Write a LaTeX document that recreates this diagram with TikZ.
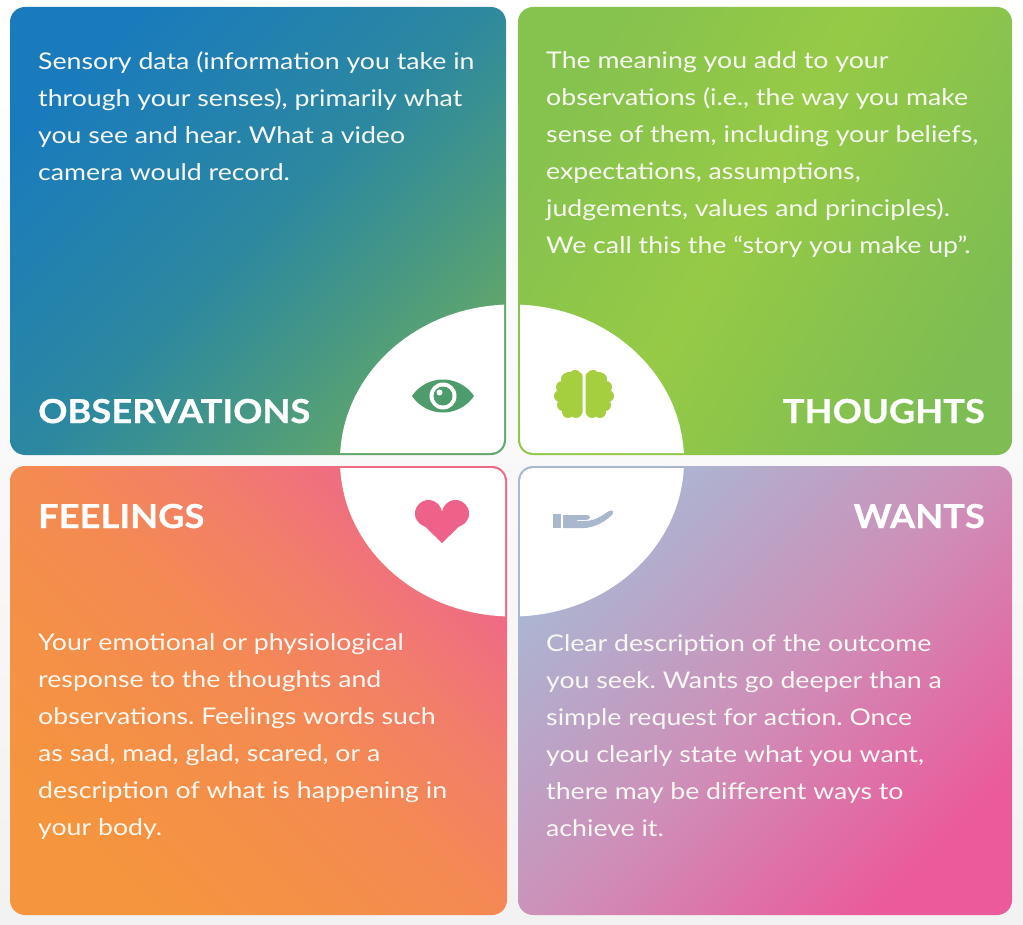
\documentclass[tikz,border=0pt]{standalone}
\usepackage{fontspec}
\setmainfont{Lato}[FakeStretch = 1.16]
\newfontfamily\titleFont{Lato}[FakeStretch = 1.1, BoldFeatures = {FakeBold = 0.8}]
\usepackage{tikz}
\usetikzlibrary{positioning}
\frenchspacing
\tikzstyle{canvas} = [x = 1pt, y = -1pt]
\definecolor{pageEnd}{HTML}{F2F2F2}
\definecolor{obsStart}{HTML}{1A7BBC}
\definecolor{obsMid}{HTML}{2C88A0}
\definecolor{obsLate}{HTML}{4A9A80}
\definecolor{obsEnd}{HTML}{62A66A}
\definecolor{thoStart}{HTML}{86C24E}
\definecolor{thoMid}{HTML}{96CA46}
\definecolor{thoEnd}{HTML}{7EBD53}
\definecolor{feeStart}{HTML}{F5953D}
\definecolor{feeMid}{HTML}{F48A52}
\definecolor{feeLate}{HTML}{F27E6A}
\definecolor{feeEnd}{HTML}{EE6888}
\definecolor{wanStart}{HTML}{A9B7D3}
\definecolor{wanMid}{HTML}{CD90B9}
\definecolor{wanEnd}{HTML}{EB5A9B}
\definecolor{eyeColor}{HTML}{4E9B6C}
\definecolor{brainColor}{HTML}{A5CF3E}
\definecolor{heartColor}{HTML}{EE6289}
\definecolor{handColor}{HTML}{AAB8CE}
\definecolor{textColor}{HTML}{F8F8F2}
\pgfdeclarehorizontalshading{obsGrad}{100bp}{color(0bp)=(obsStart); color(25bp)=(obsStart); color(50bp)=(obsMid); color(65bp)=(obsLate); color(75bp)=(obsEnd); color(100bp)=(obsEnd)}
\pgfdeclarehorizontalshading{thoGrad}{100bp}{color(0bp)=(thoStart); color(25bp)=(thoStart); color(47bp)=(thoMid); color(75bp)=(thoEnd); color(100bp)=(thoEnd)}
\pgfdeclarehorizontalshading{feeGrad}{100bp}{color(0bp)=(feeStart); color(25bp)=(feeStart); color(50bp)=(feeMid); color(62bp)=(feeLate); color(75bp)=(feeEnd); color(100bp)=(feeEnd)}
\pgfdeclarehorizontalshading{wanGrad}{100bp}{color(0bp)=(wanStart); color(25bp)=(wanStart); color(50bp)=(wanMid); color(75bp)=(wanEnd); color(100bp)=(wanEnd)}
\tikzstyle{boxStyle} = [rounded corners = 15pt]
\tikzstyle{obsShade} = [shading = obsGrad, shading angle = -45]
\tikzstyle{thoShade} = [shading = thoGrad, shading angle = -30]
\tikzstyle{feeShade} = [shading = feeGrad, shading angle = 45]
\tikzstyle{wanShade} = [shading = wanGrad, shading angle = -45]
\tikzstyle{bodyText} = [anchor = north west, inner sep = 0, align = left, text = textColor, font = \fontsize{23}{37}\selectfont]
\tikzstyle{titleText} = [inner sep = 0, text = white, font = \titleFont\fontsize{33}{33}\selectfont\bfseries]
\newcommand{\quadBox}[5]{
  \shade [boxStyle, #5] (#1, #2) rectangle (#3, #4);
  \begin{scope}
    \clip [rounded corners = 13pt] (#1 + 2, #2 + 2) rectangle (#3 - 2, #4 - 2);
    \fill [white] (512, 460.5) ellipse [x radius = 172, y radius = 156];
  \end{scope}
}

\begin{document}
\begin{tikzpicture}[canvas]
      \useasboundingbox (0, 0) rectangle (1023, 925);
      \shade [top color = white, bottom color = pageEnd] (0, 0) rectangle (1023, 925);

      \quadBox{10}{7}{506}{455}{obsShade}
      \quadBox{518}{7}{1012}{455}{thoShade}
      \quadBox{10}{466}{507}{915}{feeShade}
      \quadBox{518}{466}{1012}{915}{wanShade}

      \begin{scope}[shift = {(443, 396)}]
        \fill [eyeColor] (-31, 0) .. controls (-16, -22) and (16, -22) .. (31, 0) .. controls (16, 22) and (-16, 22) .. (-31, 0) -- cycle;
        \fill [white] (0, 0) circle (13.5);
        \fill [eyeColor] (0, 0) circle (9.5);
        \fill [white] (-3.5, -3.5) circle (3);
      \end{scope}

      \foreach \side in {-1, 1} {
        \begin{scope}[shift = {(584, 394)}, xscale = \side, brainColor]
          \fill [rounded corners = 4pt] (-20, -22) rectangle (-1.5, 22);
          \fill (-9, -18) circle (6);
          \fill (-17, -15) circle (6);
          \fill (-22, -7) circle (6);
          \fill (-24, 2) circle (6);
          \fill (-21, 11) circle (6);
          \fill (-16, 18) circle (6);
          \fill (-8, 18) circle (6);
        \end{scope}
      }

      \begin{scope}[shift = {(442, 521)}, heartColor]
        \fill (-13.5, -7.5) circle (13.5);
        \fill (13.5, -7.5) circle (13.5);
        \fill (-26.8, -4) -- (0, 22) -- (26.8, -4) -- (0, -8) -- cycle;
      \end{scope}

      \begin{scope}[shift = {(583, 521)}, handColor]
        \fill (-30, -7) rectangle (-22, 7);
        \fill (-20, -6) -- (4, -6) .. controls (8, -6) and (8, -1) .. (3, -1) -- (-6, -1) -- (-6, 0) -- (2, 0) .. controls (12, 0) and (20, -6) .. (26, -10) .. controls (30, -12) and (32, -8) .. (28, -5) .. controls (20, 2) and (10, 7) .. (0, 7) -- (-20, 7) -- cycle;
      \end{scope}

      \node [titleText, anchor = base west] (obsTitle) at (38, 423) {OBSERVATIONS};
      \node [titleText, anchor = base east] (thoTitle) at (985, 423) {THOUGHTS};
      \node [titleText, anchor = base west] (feeTitle) at (38, 528) {FEELINGS};
      \node [titleText, anchor = base east] (wanTitle) at (985, 528) {WANTS};

      \node [bodyText] (obsText) at (38, 51) {Sensory data (information you take in\\through your senses), primarily what\\you see and hear. What a video\\camera would record.};
      \node [bodyText] (thoText) at (546, 51) {The meaning you add to your\\observations (i.e., the way you make\\sense of them, including your beliefs,\\expectations, assumptions,\\judgements, values and principles).\\We call this the “story you make up”.};
      \node [bodyText] (feeText) at (38, 633) {Your emotional or physiological\\response to the thoughts and\\observations. Feelings words such\\as sad, mad, glad, scared, or a\\description of what is happening in\\your body.};
      \node [bodyText] (wanText) at (546, 634) {Clear description of the outcome\\you seek. Wants go deeper than a\\simple request for action. Once\\you clearly state what you want,\\there may be different ways to\\achieve it.};
    \end{tikzpicture}
\end{document}
